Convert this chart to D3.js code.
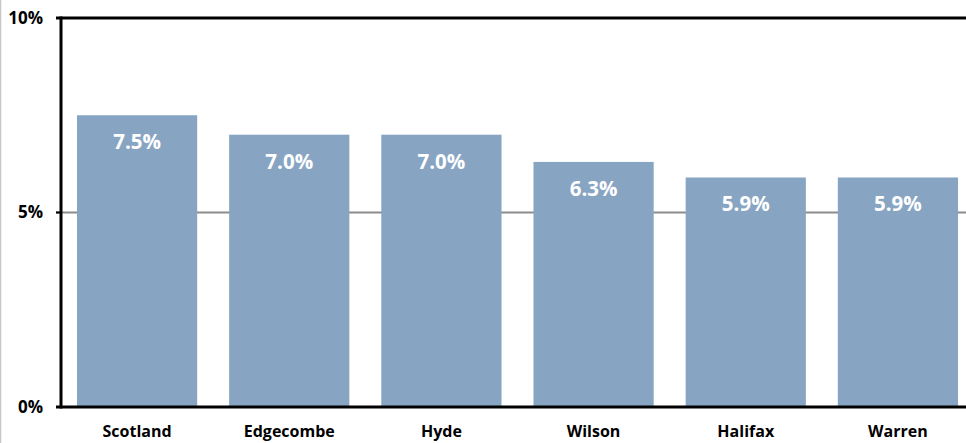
<!DOCTYPE html>
<html>
<head>
<meta charset="UTF-8">
<title>Rate by county</title>
<script src="https://d3js.org/d3.v7.min.js"></script>
<style>
  body { margin: 0; background: #fff; }
  .tick-label { font-family: "Open Sans", Arial, sans-serif; font-weight: bold; font-size: 17px; fill: #000; }
  .cat-label { font-family: "Open Sans", Arial, sans-serif; font-weight: bold; font-size: 16px; fill: #000; }
  .val-label { font-family: "Open Sans", Arial, sans-serif; font-weight: bold; font-size: 20.5px; fill: #fff; }
</style>
</head>
<body>
<script>
var counties = ["Scotland", "Edgecombe", "Hyde", "Wilson", "Halifax", "Warren"];
var rates = [7.5, 7.0, 7.0, 6.3, 5.9, 5.9];
var yTicks = [0, 5, 10];

var width = 966, height = 443;
var plotLeft = 61, plotTop = 18, plotBottom = 407;

var svg = d3.select("body").append("svg")
            .attr("width", width)
            .attr("height", height)
            .style("display", "block");

// faint border on the left edge
svg.append("line")
   .attr("x1", 0.5).attr("x2", 0.5)
   .attr("y1", 0).attr("y2", height)
   .attr("stroke", "#c8c8c8")
   .attr("stroke-width", 1.5);

var x = d3.scaleBand()
          .domain(counties)
          .range([plotLeft, 974])
          .paddingInner(0.21)
          .paddingOuter(0.105);

var y = d3.scaleLinear()
          .domain([0, 10])
          .range([plotBottom, plotTop]);

// 5% gridline (grey)
svg.selectAll(".grid")
   .data(yTicks.filter(function(d){ return d > 0 && d < 10; }))
   .enter().append("line")
   .attr("x1", 56).attr("x2", width)
   .attr("y1", function(d){ return y(d); })
   .attr("y2", function(d){ return y(d); })
   .attr("stroke", "#8c8c8c")
   .attr("stroke-width", 2);

svg.selectAll(".bar")
   .data(rates)
   .enter().append("rect")
   .attr("x", function(d, i){ return x(counties[i]); })
   .attr("y", function(d){ return y(d); })
   .attr("width", x.bandwidth())
   .attr("height", function(d){ return y(0) - y(d); })
   .attr("fill", "#87a5c3");

// top (10%) line and axes in black
svg.append("line")
   .attr("x1", 56).attr("x2", width)
   .attr("y1", y(10)).attr("y2", y(10))
   .attr("stroke", "#000").attr("stroke-width", 3);
svg.append("line")
   .attr("x1", 56).attr("x2", width)
   .attr("y1", y(0)).attr("y2", y(0))
   .attr("stroke", "#000").attr("stroke-width", 3);
svg.append("line")
   .attr("x1", plotLeft).attr("x2", plotLeft)
   .attr("y1", y(10) - 1.5).attr("y2", y(0) + 1.5)
   .attr("stroke", "#000").attr("stroke-width", 3);
svg.append("line")
   .attr("x1", 56).attr("x2", plotLeft)
   .attr("y1", y(5)).attr("y2", y(5))
   .attr("stroke", "#000").attr("stroke-width", 2);

svg.selectAll(".tick-label")
   .data(yTicks)
   .enter().append("text")
   .attr("class", "tick-label")
   .attr("x", 43)
   .attr("y", function(d){ return y(d); })
   .attr("dy", "0.35em")
   .attr("text-anchor", "end")
   .text(function(d){ return d + "%"; });

svg.selectAll(".cat-label")
   .data(counties)
   .enter().append("text")
   .attr("class", "cat-label")
   .attr("x", function(d){ return x(d) + x.bandwidth() / 2; })
   .attr("y", 437)
   .attr("text-anchor", "middle")
   .text(function(d){ return d; });

svg.selectAll(".val-label")
   .data(rates)
   .enter().append("text")
   .attr("class", "val-label")
   .attr("x", function(d, i){ return x(counties[i]) + x.bandwidth() / 2; })
   .attr("y", function(d){ return y(d) + 34; })
   .attr("text-anchor", "middle")
   .text(function(d){ return d.toFixed(1) + "%"; });
</script>
</body>
</html>
